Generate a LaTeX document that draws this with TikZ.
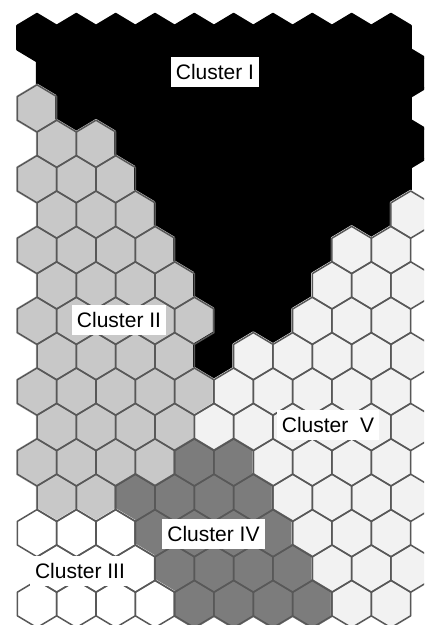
\documentclass[tikz,border=0pt]{standalone}
\usepackage{fontspec}
\setmainfont{Liberation Sans}
\usepackage{tikz}
\definecolor{SOMfill1}{RGB}{0,0,0}
\definecolor{SOMfill2}{RGB}{200,200,200}
\definecolor{SOMfill3}{RGB}{255,255,255}
\definecolor{SOMfill4}{RGB}{124,124,124}
\definecolor{SOMfill5}{RGB}{242,242,242}
\definecolor{SOMedge}{RGB}{88,88,88}
% one row of the map per entry: 1 = Cluster I ... 5 = Cluster V
\newcommand{\somrows}{%
  0/{1,1,1,1,1,1,1,1,1,1}, 1/{1,1,1,1,1,1,1,1,1,1},
  2/{2,1,1,1,1,1,1,1,1,1}, 3/{2,2,1,1,1,1,1,1,1,1},
  4/{2,2,2,1,1,1,1,1,1,1}, 5/{2,2,2,1,1,1,1,1,1,5},
  6/{2,2,2,2,1,1,1,1,5,5}, 7/{2,2,2,2,1,1,1,5,5,5},
  8/{2,2,2,2,2,1,1,5,5,5}, 9/{2,2,2,2,1,5,5,5,5,5},
  10/{2,2,2,2,2,5,5,5,5,5}, 11/{2,2,2,2,5,5,5,5,5,5},
  12/{2,2,2,2,4,4,5,5,5,5}, 13/{2,2,4,4,4,4,5,5,5,5},
  14/{3,3,3,4,4,4,4,5,5,5}, 15/{3,3,3,4,4,4,4,5,5,5},
  16/{3,3,3,3,4,4,4,4,5,5}}
\tikzset{
  cellfill/.style={line width=2.4pt,line join=round},
  cellline/.style={draw=SOMedge,line width=1.5pt,line join=round},
  clusterlabel/.style={fill=white,text=black,inner xsep=5pt,inner ysep=7pt,
                       font=\fontsize{21}{25}\selectfont},
}

\begin{document}
\begin{tikzpicture}[x=1pt,y=-1pt]
    \clip (0,0) rectangle (424,625);
    \useasboundingbox (0,0) rectangle (424,625);
    % cell colours
    \foreach \r/\cells in \somrows {
      \foreach \k [count=\c from 0] in \cells {
        \pgfmathsetmacro{\hx}{37+39.33*\c+19.67*mod(\r,2)}
        \pgfmathsetmacro{\hy}{37.6+35.4*\r}
        \filldraw[cellfill,fill=SOMfill\k,draw=SOMfill\k,shift={(\hx,\hy)}]
          (0,-23.6) -- (19.67,-11.8) -- (19.67,11.8) -- (0,23.6)
          -- (-19.67,11.8) -- (-19.67,-11.8) -- cycle;
      }
    }
    % cell borders (none inside Cluster I)
    \foreach \r/\cells in \somrows {
      \foreach \k [count=\c from 0] in \cells {
        \ifnum\k>1
          \pgfmathsetmacro{\hx}{37+39.33*\c+19.67*mod(\r,2)}
          \pgfmathsetmacro{\hy}{37.6+35.4*\r}
          \draw[cellline,shift={(\hx,\hy)}]
            (0,-23.6) -- (19.67,-11.8) -- (19.67,11.8) -- (0,23.6)
            -- (-19.67,11.8) -- (-19.67,-11.8) -- cycle;
        \fi
      }
    }
    \node[clusterlabel] (cI) at (215,72) {Cluster I};
    \node[clusterlabel] (cII) at (119,320) {Cluster II};
    \node[clusterlabel] (cIII) at (80,571) {Cluster III};
    \node[clusterlabel] (cIV) at (213.5,534) {Cluster IV};
    \node[clusterlabel] (cV) at (328,425) {Cluster~~V};
  \end{tikzpicture}
\end{document}
